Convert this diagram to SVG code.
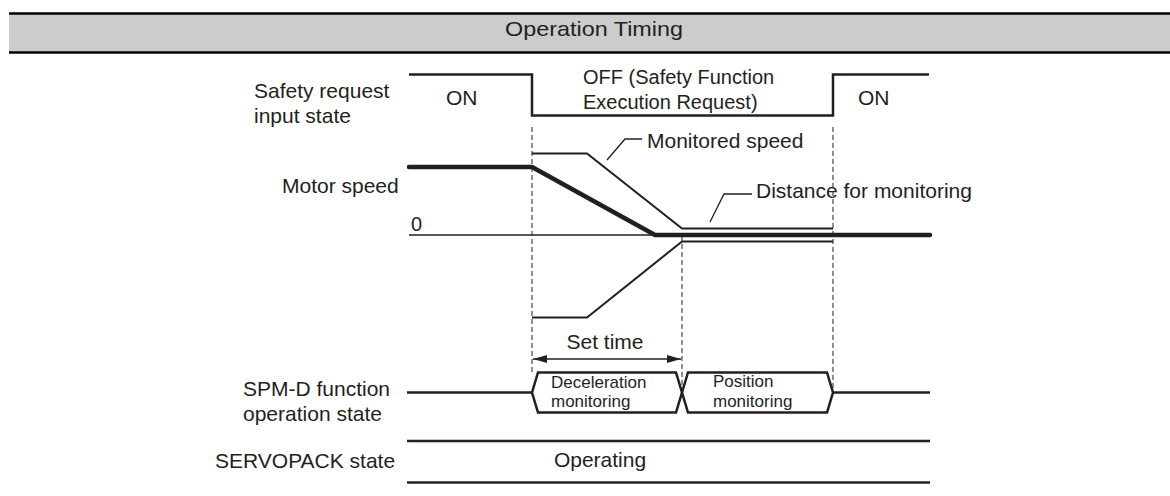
<svg xmlns="http://www.w3.org/2000/svg" width="1170" height="496" viewBox="0 0 1170 496">
<style>
text{font-family:"Liberation Sans",Arial,sans-serif;fill:#231f20}
.lbl{font-size:21px}
.sm{font-size:17px}
.sig{fill:none;stroke:#231f20;stroke-width:2.5}
.thin{fill:none;stroke:#231f20;stroke-width:2}
.dash{fill:none;stroke:#555;stroke-width:1.3;stroke-dasharray:5,3}
.lead{fill:none;stroke:#231f20;stroke-width:1.3}
</style>
<defs>
<marker id="ah" viewBox="0 0 14 8" refX="14" refY="4" markerWidth="14" markerHeight="8" markerUnits="userSpaceOnUse" orient="auto-start-reverse">
<path d="M0,0 L14,4 L0,8 Z" fill="#231f20"/>
</marker>
</defs>
<rect width="1170" height="496" fill="#ffffff"/>
<g id="header">
<rect x="9" y="14" width="1161" height="38" fill="#cccccc"/>
<line x1="9" y1="13.5" x2="1170" y2="13.5" stroke="#000" stroke-width="2.5"/>
<line x1="9" y1="52.5" x2="1170" y2="52.5" stroke="#000" stroke-width="2.5"/>
<text x="594" y="36" font-size="21" text-anchor="middle" textLength="178" lengthAdjust="spacingAndGlyphs">Operation Timing</text>
</g>
<g id="connectors">
<line class="dash" x1="532" y1="127" x2="532" y2="372"/>
<line class="dash" x1="682" y1="236" x2="682" y2="388"/>
<line class="dash" x1="833" y1="127" x2="833" y2="390"/>
<line x1="533" y1="359" x2="681" y2="359" stroke="#231f20" stroke-width="1.3" marker-start="url(#ah)" marker-end="url(#ah)"/>
<polyline class="lead" points="607,160 625,139 642,139"/>
<polyline class="lead" points="710,222 724,194 752,194"/>
</g>
<g id="safety-request">
<text class="lbl" x="254" y="98">Safety request</text>
<text class="lbl" x="254" y="123">input state</text>
<polyline class="sig" points="409,74.5 532,74.5 532,115.5 833,115.5 833,74.5 929,74.5"/>
<text class="lbl" x="446" y="105">ON</text>
<text x="583" y="84" font-size="20">OFF (Safety Function</text>
<text x="583" y="108.5" font-size="20">Execution Request)</text>
<text class="lbl" x="858" y="105">ON</text>
</g>
<g id="motor-speed">
<text class="lbl" x="282" y="193">Motor speed</text>
<text x="411" y="231" font-size="20">0</text>
<line x1="409" y1="235" x2="655" y2="235" stroke="#231f20" stroke-width="1.5"/>
<polyline class="thin" points="532,153.5 587,153.5 682,228.5 833,228.5"/>
<polyline class="thin" points="532,317.5 587,317.5 682,241.5 833,241.5"/>
<polyline points="409,167 532,167 655,235 930,235" fill="none" stroke="#231f20" stroke-width="4.5" stroke-linecap="round" stroke-linejoin="round"/>
<text class="lbl" x="647" y="148">Monitored speed</text>
<text class="lbl" x="756" y="198">Distance for monitoring</text>
</g>
<g id="set-time">
<text class="lbl" x="605" y="349" text-anchor="middle">Set time</text>
</g>
<g id="spm-d">
<text class="lbl" x="243" y="396">SPM-D function</text>
<text class="lbl" x="243" y="421">operation state</text>
<line class="sig" x1="407" y1="392.5" x2="532" y2="392.5"/>
<polygon class="sig" points="532,392.5 538,372.5 676,372.5 682,392.5 676,412.5 538,412.5"/>
<polygon class="sig" points="682,392.5 688,372.5 827,372.5 833,392.5 827,412.5 688,412.5"/>
<line class="sig" x1="833" y1="392.5" x2="930" y2="392.5"/>
<text class="sm" x="551" y="387.5">Deceleration</text>
<text class="sm" x="551" y="407">monitoring</text>
<text class="sm" x="713" y="387">Position</text>
<text class="sm" x="713" y="406.5">monitoring</text>
</g>
<g id="servopack">
<text class="lbl" x="215" y="468">SERVOPACK state</text>
<line class="sig" x1="407" y1="441" x2="930" y2="441"/>
<line class="sig" x1="407" y1="482.5" x2="930" y2="482.5"/>
<text class="lbl" x="600" y="467" text-anchor="middle">Operating</text>
</g>
</svg>
